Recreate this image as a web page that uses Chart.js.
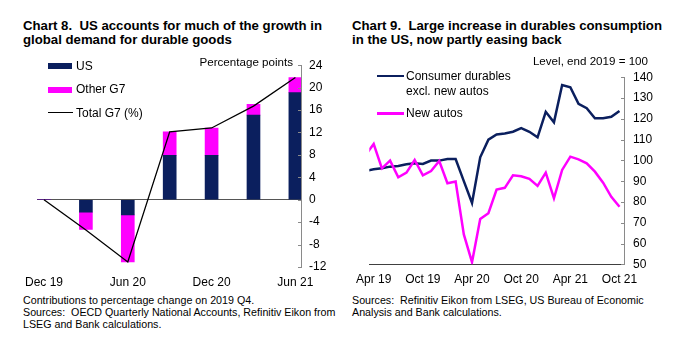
<!DOCTYPE html>
<html>
<head>
<meta charset="utf-8">
<script src="https://cdn.jsdelivr.net/npm/chart.js@4.4.1/dist/chart.umd.min.js"></script>
<style>
    body { margin: 0; background: #fff; font-family: "Liberation Sans", Arial, sans-serif; color: #000; }
    #page { position: relative; width: 680px; height: 343px; overflow: hidden; }
    .title { position: absolute; top: 19px; font-weight: bold; font-size: 13.2px; line-height: 14px; white-space: nowrap; }
    .note { position: absolute; top: 294px; font-size: 10.7px; line-height: 12px; white-space: nowrap; }
    .unit { position: absolute; font-size: 11.6px; line-height: 14px; white-space: nowrap; text-align: right; }
    .leg { position: absolute; font-size: 12px; line-height: 14px; white-space: nowrap; }
    .sw { position: absolute; }
    canvas { position: absolute; }
</style>
</head>
<body>
<div id="page">
    <div class="title" style="left:23px">Chart 8.&nbsp; US accounts for much of the growth in<br>global demand for durable goods</div>
    <div class="title" style="left:352px">Chart 9.&nbsp; Large increase in durables consumption<br>in the US, now partly easing back</div>

    <canvas id="left-chart" width="340" height="240" style="left:0;top:50px"></canvas>
    <canvas id="right-chart" width="340" height="240" style="left:340px;top:50px"></canvas>

    <div class="unit" style="right:387px;top:55px">Percentage points</div>
    <div class="unit" style="right:32px;top:54px">Level, end 2019 = 100</div>

    <div class="sw" id="sw-us" style="left:48px;top:63px;width:24px;height:6px"></div>
    <div class="leg" style="left:76px;top:59px">US</div>
    <div class="sw" id="sw-other" style="left:48px;top:87px;width:24px;height:6px"></div>
    <div class="leg" style="left:76px;top:82px">Other G7</div>
    <div class="sw" id="sw-total" style="left:48px;top:112px;width:25px;height:1.3px"></div>
    <div class="leg" style="left:76px;top:106px">Total G7 (%)</div>

    <div class="sw" id="sw-durables" style="left:377px;top:74.5px;width:27px;height:2.5px"></div>
    <div class="leg" style="left:406px;top:68.5px;line-height:15px">Consumer durables<br>excl. new autos</div>
    <div class="sw" id="sw-autos" style="left:377px;top:112px;width:27px;height:2.5px"></div>
    <div class="leg" style="left:406px;top:106px">New autos</div>

    <div class="note" style="left:23px">Contributions to percentage change on 2019 Q4.<br>Sources:&nbsp; OECD Quarterly National Accounts, Refinitiv Eikon from<br>LSEG and Bank calculations.</div>
    <div class="note" style="left:352px">Sources:&nbsp; Refinitiv Eikon from LSEG, US Bureau of Economic<br>Analysis and Bank calculations.</div>
</div>

<script>
// Chart 8: contributions to % change on 2019 Q4
const quarters = ['Dec 19', 'Mar 20', 'Jun 20', 'Sep 20', 'Dec 20', 'Mar 21', 'Jun 21'];
const usContrib = [0, -2.2, -2.7, 7.9, 7.9, 15.1, 19.1];
const otherG7Contrib = [0, -3.1, -8.4, 4.2, 4.9, 1.9, 2.7];
const totalG7 = [0, -5.4, -11.1, 12.1, 12.8, 16.7, 21.8];
const leftTickLabels = ['Dec 19', 'Jun 20', 'Dec 20', 'Jun 21'];

// Chart 9: level, end 2019 = 100
const months = ['Mar 19', 'Apr 19', 'May 19', 'Jun 19', 'Jul 19', 'Aug 19', 'Sep 19', 'Oct 19', 'Nov 19', 'Dec 19',
    'Jan 20', 'Feb 20', 'Mar 20', 'Apr 20', 'May 20', 'Jun 20', 'Jul 20', 'Aug 20', 'Sep 20', 'Oct 20', 'Nov 20', 'Dec 20',
    'Jan 21', 'Feb 21', 'Mar 21', 'Apr 21', 'May 21', 'Jun 21', 'Jul 21', 'Aug 21', 'Sep 21', 'Oct 21'];
const durablesExAutos = [95, 95.7, 96.2, 97, 97.3, 98.1, 98.6, 98.3, 99.9, 99.9,
    100.7, 100.7, 90, 79.5, 101.5, 110, 112.5, 113, 113.8, 115.5, 113.8, 111.1,
    123.4, 118.3, 136.3, 135.2, 127.2, 125.1, 120.3, 120.3, 121, 123.8];
const newAutos = [102.5, 107.9, 96.2, 99.9, 91.9, 94.1, 100.2, 92.8, 94.9, 99.7,
    89, 89.8, 64.4, 51, 71.8, 74.6, 86, 86.8, 92.8, 92.4, 91.1, 87.7,
    94.1, 81.8, 95.4, 101.8, 100.5, 98.6, 94.6, 89.3, 82.5, 77.7];
const rightTickLabels = ['Apr 19', 'Oct 19', 'Apr 20', 'Oct 20', 'Apr 21', 'Oct 21'];

const navy = '#0b1f5e';
const pink = '#ff00ff';
const axisGrey = '#8a8a8a';

document.getElementById('sw-us').style.background = navy;
document.getElementById('sw-other').style.background = pink;
document.getElementById('sw-total').style.background = '#000';
document.getElementById('sw-durables').style.background = navy;
document.getElementById('sw-autos').style.background = pink;

Chart.defaults.font.family = '"Liberation Sans", Arial, sans-serif';
Chart.defaults.font.size = 12;
Chart.defaults.color = '#000';
Chart.defaults.animation = false;

// small tick marks pointing into the plot from the right-hand axis
const innerTicks = {
    id: 'innerTicks',
    afterDraw(chart) {
        const y = chart.scales.y;
        const ctx = chart.ctx;
        ctx.save();
        ctx.strokeStyle = axisGrey;
        ctx.lineWidth = 1;
        y.ticks.forEach(t => {
            const py = Math.round(y.getPixelForValue(t.value)) + 0.5;
            ctx.beginPath();
            ctx.moveTo(y.left - 3, py);
            ctx.lineTo(y.left, py);
            ctx.stroke();
        });
        ctx.restore();
    }
};

const pts = (arr) => arr.map((v, i) => ({ x: i, y: v }));

// put a tick under every label of the given list, at that label's index
const tickIndexes = (all, shown) => shown.map(l => all.indexOf(l));

new Chart(document.getElementById('left-chart'), {
    data: {
        datasets: [
            { type: 'line', label: 'Total G7 (%)', data: pts(totalG7), borderColor: '#000', borderWidth: 1.3, pointRadius: 0, order: 0 },
            { type: 'bar', label: 'US', data: pts(usContrib), backgroundColor: navy, barThickness: 13, order: 1 },
            { type: 'bar', label: 'Other G7', data: pts(otherG7Contrib), backgroundColor: pink, barThickness: 13, order: 1 }
        ]
    },
    options: {
        responsive: false,
        layout: { padding: { left: 37, top: 12.7, right: 0, bottom: 0 } },
        plugins: { legend: { display: false }, tooltip: { enabled: false } },
        scales: {
            x: {
                type: 'linear', stacked: true, offset: false, min: -0.167, max: 6.134,
                afterBuildTicks: s => { s.ticks = tickIndexes(quarters, leftTickLabels).map(v => ({ value: v })); },
                afterFit: s => { s.height = 23; },
                ticks: { padding: 8, maxRotation: 0, callback: v => quarters[v] },
                grid: { display: false, drawTicks: false, offset: false },
                border: { display: false }
            },
            y: {
                position: 'right', stacked: true, min: -12, max: 24,
                afterFit: s => { s.width = 39; },
                ticks: { stepSize: 4, padding: 8 },
                grid: { drawTicks: false, color: c => c.tick && c.tick.value === 0 ? '#555' : 'transparent' },
                border: { color: axisGrey }
            }
        }
    },
    plugins: [innerTicks]
});

new Chart(document.getElementById('right-chart'), {
    type: 'line',
    data: {
        datasets: [
            { label: 'Consumer durables excl. new autos', data: pts(durablesExAutos), borderColor: navy, borderWidth: 2.5, pointRadius: 0, clip: 0, order: 1 },
            { label: 'New autos', data: pts(newAutos), borderColor: pink, borderWidth: 2.5, pointRadius: 0, clip: 0, order: 0 }
        ]
    },
    options: {
        responsive: false,
        layout: { padding: { left: 29.3, top: 27.3, right: 0, bottom: 0 } },
        plugins: { legend: { display: false }, tooltip: { enabled: false } },
        scales: {
            x: {
                type: 'linear', min: 0.463, max: 31.55,
                afterBuildTicks: s => { s.ticks = tickIndexes(months, rightTickLabels).map(v => ({ value: v })); },
                afterFit: s => { s.height = 25.7; },
                ticks: { padding: 8, maxRotation: 0, callback: v => months[v] },
                grid: { display: false, drawTicks: false },
                border: { color: '#404040' }
            },
            y: {
                position: 'right', min: 50, max: 140,
                afterFit: s => { s.width = 56; },
                ticks: { stepSize: 10, padding: 9 },
                grid: { drawOnChartArea: false, drawTicks: false },
                border: { color: axisGrey }
            }
        }
    },
    plugins: [innerTicks]
});
</script>
</body>
</html>
